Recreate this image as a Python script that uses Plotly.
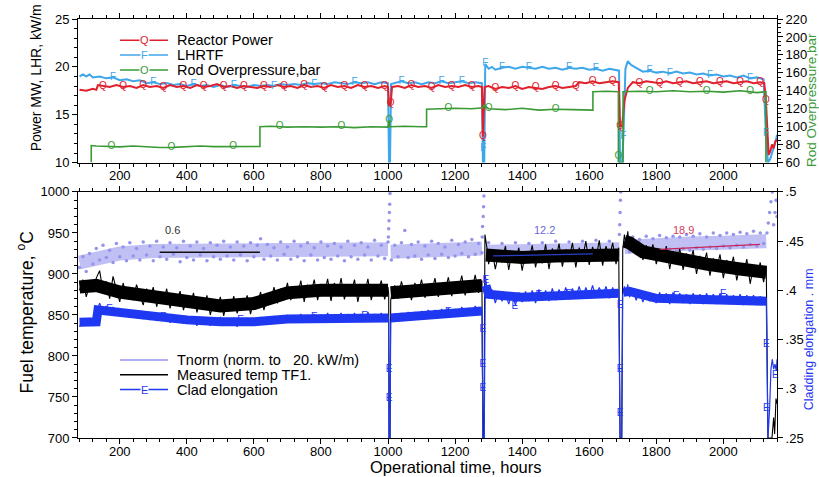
import plotly.graph_objects as go

# ---------------- data ----------------
# Top panel, left axis (MW / kW/m)
power = [(80,17.6),(100,17.5),(120,17.7),(130,17.6),(135,18.1),(150,18.0),(170,17.9),(190,18.1),(210,17.9),(230,18.0),
         (250,17.8),(270,18.1),(290,17.9),(310,18.0),(330,17.8),(350,18.1),(370,17.9),(390,18.0),(410,17.8),(430,18.1),
         (450,17.9),(470,18.0),(490,18.2),(510,17.9),(530,18.0),(550,17.8),(570,18.0),(590,17.9),(610,17.8),(630,18.0),
         (650,17.9),(670,18.1),(690,17.9),(710,18.0),(730,17.8),(750,18.1),(770,17.9),(790,18.0),(810,17.8),(830,18.1),
         (850,17.9),(870,18.0),(890,17.8),(910,18.1),(930,17.9),(950,18.0),(970,17.8),(990,18.0),(1000,17.9),(1003,15.9),
         (1008,16.2),(1012,17.9),(1030,18.0),(1050,17.8),(1070,18.1),(1090,17.9),(1110,18.0),(1130,17.8),(1150,18.1),(1170,17.9),
         (1190,18.0),(1210,17.9),(1230,18.1),(1250,17.9),(1270,18.0),(1280,17.9),(1283,12.7),(1288,17.9),(1300,18.0),(1320,17.7),
         (1340,17.9),(1360,17.8),(1380,18.0),(1400,17.7),(1420,17.9),(1440,17.8),(1460,17.7),(1480,17.9),(1500,18.0),(1520,17.8),
         (1540,17.9),(1560,18.0),(1570,18.4),(1590,18.3),(1610,18.5),(1630,18.3),(1650,18.4),(1670,18.5),(1688,18.4),(1692,13.8),
         (1698,13.8),(1705,16.5),(1715,17.8),(1730,18.4),(1750,18.3),(1770,18.5),(1790,18.4),(1810,18.3),(1830,18.5),(1850,18.3),
         (1870,18.4),(1890,18.5),(1910,18.3),(1930,18.4),(1950,18.5),(1970,18.3),(1990,18.4),(2010,18.5),(2030,18.3),(2050,18.4),
         (2070,18.5),(2090,18.3),(2110,18.4),(2122,18.3),(2127,16.5),(2135,10.8),(2140,11.2),(2145,11.9),(2150,11.5),(2155,12.2),
         (2160,12.4)]
power_letters_x = [150,210,270,330,390,450,510,570,630,690,750,810,870,930,990,1008,1070,1130,1190,1250,1283,
                   1320,1380,1440,1500,1560,1610,1670,1692,1750,1810,1870,1930,1990,2050,2110,2127]

lhr = [(80,19.0),(90,19.2),(100,19.0),(110,19.2),(120,18.9),(140,19.0),(160,18.8),(180,18.9),(200,18.6),(220,18.7),
       (240,18.5),(260,18.6),(280,18.3),(300,18.4),(320,18.2),(340,18.3),(360,18.1),(380,18.2),(400,18.0),(420,18.2),
       (440,18.0),(460,18.1),(480,17.9),(500,18.1),(520,17.9),(540,18.1),(560,18.0),(580,17.9),(600,18.1),(620,18.0),
       (640,18.1),(660,18.0),(680,18.2),(700,18.1),(720,18.2),(740,18.1),(760,18.3),(780,18.2),(800,18.3),(820,18.2),
       (840,18.4),(860,18.3),(880,18.2),(900,18.4),(920,18.3),(940,18.4),(960,18.2),(980,18.4),(1000,18.3),(1003,10.0),
       (1006,10.0),(1009,18.2),(1020,18.3),(1040,18.5),(1060,18.3),(1080,18.4),(1100,18.2),(1120,18.4),(1140,18.3),(1160,18.5),
       (1180,18.3),(1200,18.4),(1220,18.5),(1240,18.3),(1260,18.4),(1280,18.3),(1283,10.0),(1287,10.0),(1290,20.3),(1300,19.8),
       (1310,20.0),(1320,19.7),(1340,19.9),(1360,20.0),(1380,19.8),(1400,20.0),(1420,19.9),(1440,19.8),(1460,20.0),(1480,19.8),
       (1500,19.9),(1520,19.7),(1540,19.9),(1560,19.8),(1580,19.9),(1600,19.7),(1620,19.8),(1640,19.6),(1660,19.8),(1680,19.7),
       (1689,19.6),(1692,10.0),(1698,10.0),(1702,12.7),(1708,19.8),(1715,20.6),(1725,20.2),(1740,19.9),(1760,19.5),(1780,19.6),
       (1800,19.4),(1820,19.5),(1840,19.3),(1860,19.5),(1880,19.3),(1900,19.4),(1920,19.2),(1940,19.3),(1960,19.1),(1980,19.2),
       (2000,19.0),(2020,19.1),(2040,18.9),(2060,19.1),(2080,18.8),(2100,18.9),(2120,18.7),(2127,13.0),(2133,10.0),(2140,10.4),
       (2146,11.0),(2152,11.8),(2158,12.5),(2160,12.9)]
lhr_letters_x = [180,300,420,540,660,780,900,1040,1160,1220,1290,1340,1420,1540,1620,1702,1780,1840,1960,2080,2127]
lhr_extra_letters = [(1284, 11.5)]

# Top panel, right axis (bar)
pressure = [(115,60),(115,79),(130,78.5),(160,78),(200,77.5),(240,78.5),(280,77.5),(320,76.8),(360,77),(400,77.5),
            (440,78.5),(480,77.8),(520,78),(560,78.5),(600,78.3),(618,78),(618,100),(650,100.5),(700,99.5),(750,100),
            (800,99.5),(850,100),(900,99),(950,100),(1000,99.5),(1003,107),(1006,100),(1050,100.5),(1100,100),(1115,100),
            (1115,119.5),(1150,120),(1200,120.5),(1250,120),(1283,121),(1286,124),(1300,120),(1350,119),(1400,120.5),(1450,118.5),
            (1500,119.5),(1550,119),(1611,118.5),(1611,139),(1650,139.5),(1687,139),(1687,60),(1701,60),(1701,139),(1750,139.5),
            (1800,139),(1850,140),(1900,139),(1950,139.5),(2000,138.5),(2050,140),(2100,138),(2127,139),(2127,60)]
pressure_letters = [(175,77.8),(354,77),(538,78.3),(677,99.8),(861,99.8),(1003,107),(1180,120.2),(1300,120.3),
                    (1500,119.5),(1687,66.6),(1780,139.2),(1950,139.5),(2080,138.8)]

# Bottom panel, left axis (deg C): measured TF1
tf1 = [(80,880),(90,893),(100,872),(110,886),(120,878),(130,895),(140,904),(150,879),(160,891),(170,870),(180,897),(190,883),
       (200,866),(210,889),(220,874),(230,884),(240,868),(250,887),(260,875),(270,862),(280,882),(290,871),(300,884),(310,860),
       (320,877),(330,866),(340,882),(350,858),(360,874),(370,868),(380,879),(390,856),(400,871),(410,862),(420,877),(430,853),
       (440,869),(450,858),(460,874),(470,850),(480,866),(490,857),(500,872),(510,849),(520,868),(530,856),(540,873),(550,852),
       (560,866),(570,859),(580,874),(590,851),(600,869),(610,862),(620,878),(630,856),(640,873),(650,866),(660,884),(670,864),
       (680,882),(690,871),(700,889),(710,868),(720,885),(730,874),(740,892),(750,866),(760,887),(770,876),(780,893),(790,868),
       (800,886),(810,875),(820,894),(830,867),(840,889),(850,874),(860,895),(870,869),(880,887),(890,876),(900,893),(910,866),
       (920,886),(930,875),(940,894),(950,868),(960,885),(970,877),(980,892),(990,869),(1000,884),(1002,875),(1003,700),(1006,700),
       (1008,868),(1010,872),(1020,886),(1030,870),(1040,891),(1050,875),(1060,884),(1070,868),(1080,889),(1090,877),(1100,893),
       (1110,871),(1120,886),(1130,878),(1140,895),(1150,872),(1160,888),(1170,879),(1180,896),(1190,873),(1200,890),(1210,881),
       (1220,898),(1230,874),(1240,891),(1250,880),(1260,899),(1270,877),(1280,892),(1283,700),(1286,700),(1289,948),(1295,932),
       (1300,912),(1310,930),(1320,906),(1330,926),(1340,914),(1350,934),(1360,905),(1370,928),(1380,915),(1390,932),(1400,904),
       (1410,927),(1420,916),(1430,935),(1440,908),(1450,929),(1460,913),(1470,936),(1480,906),(1490,931),(1500,917),(1510,937),
       (1520,909),(1530,930),(1540,918),(1550,938),(1560,908),(1570,932),(1580,919),(1590,940),(1600,911),(1610,933),(1620,918),
       (1630,941),(1640,910),(1650,934),(1660,920),(1670,938),(1680,912),(1688,932),(1692,700),(1697,700),(1700,930),(1705,948),
       (1710,936),(1715,952),(1720,931),(1730,944),(1740,925),(1750,939),(1760,917),(1770,935),(1780,922),(1790,936),(1800,912),
       (1810,930),(1820,918),(1830,934),(1840,906),(1850,928),(1860,914),(1870,931),(1880,905),(1890,925),(1900,912),(1910,929),
       (1920,900),(1930,922),(1940,909),(1950,926),(1960,898),(1970,919),(1980,906),(1990,924),(2000,895),(2010,917),(2020,903),
       (2030,921),(2040,892),(2050,913),(2060,900),(2070,918),(2080,888),(2090,910),(2100,897),(2110,914),(2120,890),(2128,908),
       (2133,700),(2145,700),(2150,725),(2153,705),(2157,748),(2160,742)]
tf1_band = [(80,884),(130,886),(200,878),(300,871),(400,865),(500,861),(600,864),(700,877),(800,880),(900,880),
            (1000,880),(None,None),(1008,877),(1100,881),(1200,884),(1280,886),(None,None),(1292,923),(1400,920),
            (1500,922),(1600,924),(1688,923),(None,None),(1705,940),(1720,938),(1760,927),(1850,919),(1950,912),
            (2050,906),(2128,902)]

# Tnorm (deg C)
tnorm_band = [(80,914),(130,918),(200,925),(300,928),(400,928),(500,928),(600,929),(700,929),(800,928),(900,929),
              (1000,930),(None,None),(1008,927),(1100,929),(1200,930),(1280,931),(None,None),(1292,927),(1400,927),
              (1500,928),(1600,929),(1690,930),(None,None),(1705,933),(1800,936),(1900,937),(2000,938),(2128,940)]
tnorm_dots = [(80,908),(90,921),(100,903),(110,925),(120,912),(130,931),(140,917),(150,935),(160,920),(170,929),(180,914),
              (190,937),(200,921),(210,933),(220,916),(230,938),(240,922),(250,931),(260,917),(270,939),(280,923),(290,934),
              (300,916),(310,940),(320,921),(330,933),(340,918),(350,938),(360,924),(370,932),(380,915),(390,940),(400,920),
              (410,934),(420,917),(430,939),(440,923),(450,931),(460,916),(470,938),(480,921),(490,935),(500,918),(510,940),
              (520,922),(530,933),(540,917),(550,939),(560,923),(570,934),(580,916),(590,938),(600,921),(610,935),(620,943),
              (630,918),(640,936),(650,922),(660,932),(670,917),(680,939),(690,924),(700,933),(710,918),(720,940),(730,921),
              (740,934),(750,916),(760,938),(770,923),(780,932),(790,917),(800,939),(810,920),(820,934),(830,918),(840,937),
              (850,922),(860,933),(870,916),(880,940),(890,921),(900,935),(910,918),(920,938),(930,923),(940,933),(950,917),
              (960,941),(970,922),(980,935),(990,919),(1000,939),(1001,945),(1002,955),(1003,965),(1004,975),(1005,985),
              (1006,998),(1010,917),(1020,935),(1030,921),(1040,938),(1050,953),(1060,920),(1070,936),(1080,922),(1090,939),
              (1100,918),(1110,934),(1120,923),(1130,940),(1140,919),(1150,937),(1160,924),(1170,933),(1180,920),(1190,941),
              (1200,922),(1210,936),(1220,925),(1230,939),(1240,921),(1250,942),(1260,924),(1270,937),(1280,926),(1281,945),
              (1282,958),(1284,970),(1285,982),(1286,995),(1300,938),(1320,917),(1340,937),(1360,918),(1380,938),(1400,919),
              (1420,937),(1440,920),(1460,938),(1480,919),(1500,940),(1520,920),(1540,939),(1560,921),(1580,940),(1600,922),
              (1620,941),(1640,921),(1660,940),(1680,922),(1690,948),(1691,960),(1692,975),(1693,990),(1694,1000),(1710,940),
              (1720,927),(1730,945),(1740,925),(1750,942),(1760,928),(1770,946),(1780,926),(1790,943),(1800,929),(1810,947),
              (1820,927),(1830,944),(1840,930),(1850,946),(1860,928),(1870,945),(1880,931),(1890,948),(1900,929),(1910,946),
              (1920,932),(1930,949),(1940,930),(1950,945),(1960,933),(1970,950),(1980,931),(1990,947),(2000,934),(2010,950),
              (2020,932),(2030,948),(2040,935),(2050,951),(2060,933),(2070,949),(2080,936),(2090,952),(2100,934),(2110,950),
              (2120,937),(2130,950),(2134,962),(2138,975),(2142,988),(2146,1000),(2150,960),(2154,975),(2157,990),(2160,970)]

# Bottom panel, right axis (mm): cladding elongation
clad = [(80,.363),(90,.370),(100,.365),(110,.372),(120,.364),(130,.369),(135,.382),(140,.387),(150,.378),(160,.384),(170,.377),
        (180,.383),(190,.375),(200,.381),(210,.374),(220,.380),(230,.373),(240,.379),(250,.372),(260,.378),(270,.371),(280,.377),
        (290,.370),(300,.376),(310,.369),(320,.377),(330,.370),(340,.375),(350,.367),(360,.374),(370,.368),(380,.373),(390,.366),
        (400,.374),(410,.367),(420,.372),(430,.364),(440,.373),(450,.366),(460,.372),(470,.364),(480,.371),(490,.365),(500,.373),
        (510,.364),(520,.371),(530,.366),(540,.372),(550,.363),(560,.371),(570,.365),(580,.372),(590,.364),(600,.371),(610,.366),
        (620,.373),(630,.365),(640,.372),(650,.367),(660,.374),(670,.366),(680,.373),(690,.368),(700,.375),(710,.367),(720,.374),
        (730,.369),(740,.376),(750,.367),(760,.375),(770,.369),(780,.376),(790,.368),(800,.375),(810,.369),(820,.377),(830,.368),
        (840,.375),(850,.370),(860,.377),(870,.368),(880,.376),(890,.369),(900,.377),(910,.368),(920,.376),(930,.370),(940,.378),
        (950,.368),(960,.376),(970,.370),(980,.377),(990,.369),(1000,.375),(1002,.370),(1003,.25),(1006,.25),(1008,.368),
        (1020,.376),(1030,.369),(1040,.377),(1050,.370),(1060,.378),(1070,.371),(1080,.378),(1090,.371),(1100,.379),(1110,.372),
        (1120,.380),(1130,.373),(1140,.380),(1150,.372),(1160,.381),(1170,.374),(1180,.382),(1190,.374),(1200,.381),(1210,.375),
        (1220,.383),(1230,.375),(1240,.382),(1250,.376),(1260,.384),(1270,.376),(1280,.382),(1283,.25),(1287,.25),(1290,.415),
        (1295,.402),(1300,.392),(1310,.401),(1320,.387),(1330,.399),(1340,.389),(1350,.398),(1360,.386),(1370,.397),(1380,.385),
        (1390,.398),(1400,.388),(1410,.399),(1420,.389),(1430,.400),(1440,.387),(1450,.401),(1460,.390),(1470,.400),(1480,.389),
        (1490,.402),(1500,.390),(1510,.401),(1520,.391),(1530,.403),(1540,.391),(1550,.402),(1560,.392),(1570,.404),(1580,.392),
        (1590,.403),(1600,.393),(1610,.405),(1620,.393),(1630,.403),(1640,.394),(1650,.404),(1660,.392),(1670,.403),(1680,.393),
        (1688,.401),(1692,.25),(1697,.25),(1700,.395),(1705,.404),(1710,.398),(1715,.406),(1720,.393),(1730,.401),(1740,.390),
        (1750,.399),(1760,.388),(1770,.398),(1780,.389),(1790,.397),(1800,.387),(1810,.398),(1820,.388),(1830,.397),(1840,.386),
        (1850,.398),(1860,.388),(1870,.397),(1880,.387),(1890,.396),(1900,.386),(1910,.397),(1920,.387),(1930,.396),(1940,.386),
        (1950,.397),(1960,.387),(1970,.396),(1980,.386),(1990,.397),(2000,.387),(2010,.396),(2020,.386),(2030,.395),(2040,.386),
        (2050,.396),(2060,.385),(2070,.395),(2080,.386),(2090,.395),(2100,.385),(2110,.394),(2120,.386),(2128,.392),(2133,.25),
        (2138,.28),(2142,.32),(2146,.33),(2150,.32),(2154,.325),(2158,.318),(2160,.33)]
clad_band = [(80,.3675),(130,.368),(135,.380),(200,.377),(300,.374),(400,.370),(500,.368),(600,.368),(700,.371),
             (800,.372),(900,.372),(1000,.372),(None,None),(1008,.372),(1100,.375),(1200,.377),(1280,.379),(None,None),
             (1292,.405),(1300,.396),(1400,.393),(1500,.395),(1600,.397),(1688,.397),(None,None),(1702,.398),(1720,.399),
             (1800,.392),(1900,.391),(2000,.391),(2100,.390),(2128,.389)]
clad_letters = [(170,.381),(330,.372),(560,.369),(780,.372),(930,.373),(1003,.32),(1003,.29),(1180,.377),(1283,.36),
                (1283,.325),(1283,.30),(1292,.41),(1378,.384),(1450,.395),(1540,.396),(1692,.385),(1692,.32),(1692,.275),
                (1860,.394),(2000,.396),(2128,.345),(2128,.28),(2155,.313)]

# fitted trend lines and their slope labels
trend_a = [(319,926.5),(618,926.5)]
trend_b = [(1313,922),(1611,924.5)]
trend_c = [(1811,930),(2109,936)]
trend_labels = [(358,"0.6"),(1468,"12.2"),(1880,"18.9")]
trend_label_y = 954

x_ticks = [200,400,600,800,1000,1200,1400,1600,1800,2000]
clad_ticks = [.25,.3,.35,.4,.45,.5]
clad_tick_text = [".25",".3",".35",".4",".45",".5"]

# ---------------- styling ----------------
W, H = 819, 477
ML, MR, MT, MB = 78, 42, 14, 39
PW, PH = W - ML - MR, H - MT - MB
FONT = "Arial, 'Liberation Sans', sans-serif"
RED, LBLUE, GREEN = "#e0202c", "#3ea6ea", "#3a9a34"
PURPLE, PURPLE_BAND, BLACK, BLUE = "#9494ec", "#c0c0f5", "#000000", "#1f38f2"

def px(x): return (x - ML) / PW
def py(y): return (H - MB - y) / PH

def xs(pts): return [p[0] for p in pts]
def ys(pts): return [p[1] for p in pts]

power_map = dict(power)
lhr_map = dict(lhr)

fig = go.Figure()

def line(pts, color, width, xa, ya):
    fig.add_trace(go.Scatter(x=xs(pts), y=ys(pts), mode="lines", xaxis=xa, yaxis=ya,
                             line=dict(color=color, width=width),
                             showlegend=False, hoverinfo="skip", connectgaps=False))

def letters(pts, letter, color, xa, ya, size=10):
    fig.add_trace(go.Scatter(x=xs(pts), y=ys(pts), mode="text", text=[letter]*len(pts),
                             xaxis=xa, yaxis=ya, textfont=dict(color=color, size=size, family=FONT),
                             showlegend=False, hoverinfo="skip", cliponaxis=False))

# top panel
line(pressure, GREEN, 1.6, "x", "y2")
line(lhr, LBLUE, 2.0, "x", "y")
line(power, RED, 2.0, "x", "y")
letters(pressure_letters, "O", GREEN, "x", "y2")
letters([(x, lhr_map[x]) for x in lhr_letters_x] + lhr_extra_letters, "F", LBLUE, "x", "y")
letters([(x, power_map[x]) for x in power_letters_x], "Q", RED, "x", "y")

# bottom panel
line(tnorm_band, PURPLE_BAND, 14, "x2", "y3")
fig.add_trace(go.Scatter(x=xs(tnorm_dots), y=ys(tnorm_dots), mode="markers", xaxis="x2", yaxis="y3",
                         marker=dict(color=PURPLE, size=3.5), showlegend=False, hoverinfo="skip"))
line(clad_band, BLUE, 9, "x2", "y4")
line(clad, BLUE, 1.2, "x2", "y4")
line(tf1_band, BLACK, 13, "x2", "y3")
line(tf1, BLACK, 1.1, "x2", "y3")
line(trend_a, "#111111", 1.3, "x2", "y3")
line(trend_b, "#2a3fc8", 1.3, "x2", "y3")
line(trend_c, "#c8245a", 1.3, "x2", "y3")
letters(clad_letters, "E", BLUE, "x2", "y4", size=10)

ax_common = dict(showline=True, linecolor="black", linewidth=1, ticks="outside", ticklen=5,
                 tickcolor="black", showgrid=False, zeroline=False,
                 tickfont=dict(size=13, color="black", family=FONT))
minor_t = dict(ticklen=3, ticks="outside", tickcolor="black")
xr = [75.5, 2160]
fig.update_layout(
    width=W, height=H, margin=dict(l=ML, r=MR, t=MT, b=MB),
    paper_bgcolor="white", plot_bgcolor="white", font=dict(family=FONT, color="black"),
    showlegend=False,
    xaxis=dict(ax_common, domain=[0, 1], anchor="y", range=xr, tickvals=x_ticks, mirror="ticks",
               ticklabelstandoff=-4, minor=dict(minor_t, dtick=40, tick0=0)),
    yaxis=dict(ax_common, domain=[py(159.3), 1], anchor="x", range=[10, 25], dtick=5,
               minor=dict(minor_t, dtick=1)),
    yaxis2=dict(ax_common, overlaying="y", side="right", anchor="x", range=[60, 220], dtick=20,
                minor=dict(minor_t, dtick=5)),
    xaxis2=dict(ax_common, domain=[0, 1], anchor="y3", range=xr, tickvals=x_ticks, mirror="ticks",
                ticklabelstandoff=-4, minor=dict(minor_t, dtick=40, tick0=0)),
    yaxis3=dict(ax_common, domain=[0, py(189)], anchor="x2", range=[700, 1000], dtick=50,
                minor=dict(minor_t, dtick=10)),
    yaxis4=dict(ax_common, overlaying="y3", side="right", anchor="x2", range=[.25, .5],
                tickvals=clad_ticks, ticktext=clad_tick_text),
)

ann = []
shapes = []
def text(xp, yp, s, size, color="black", angle=0, xanchor="center", bg=None):
    d = dict(x=px(xp), y=py(yp), xref="paper", yref="paper", text=s, showarrow=False,
             font=dict(size=size, color=color, family=FONT), textangle=angle,
             xanchor=xanchor, yanchor="middle")
    if bg:
        d.update(bgcolor=bg, borderpad=0)
    ann.append(d)

# axis titles
text(36, 74, "Power MW, LHR, kW/m", 14, angle=-90)
text(26, 311, "Fuel temperature, <sup>o</sup>C", 17.5, angle=-90)
text(456, 467, "Operational time, hours", 16.5)
text(811, 96, "Rod Overpressure,bar", 13.5, color=GREEN, angle=-90)
text(809, 338, "Cladding elongation . mm", 12.5, color=BLUE, angle=-90)

# trend labels
label_colors = ["#333333", "#6a6ad2", "#d23c5a"]
for (xv, s), c in zip(trend_labels, label_colors):
    ann.append(dict(x=xv, y=trend_label_y, xref="x2", yref="y3", text=s, showarrow=False,
                    font=dict(size=11, color=c, family=FONT)))

# custom legends
def legend_row(yp, color, label, letter=None, width=1.5):
    shapes.append(dict(type="line", xref="paper", yref="paper", x0=px(120), x1=px(168),
                       y0=py(yp), y1=py(yp), line=dict(color=color, width=width)))
    if letter:
        text(144, yp, letter, 11, color=color, bg="white")
    text(175, yp, label, 14.5, xanchor="left")

legend_row(35.5, RED, "Reactor Power", "Q")
legend_row(50.5, LBLUE, "LHRTF", "F")
legend_row(65.5, GREEN, "Rod Overpressure,bar", "O")
legend_row(359, PURPLE, "Tnorm (norm. to\u00a0\u00a0 20. kW/m)")
legend_row(374, BLACK, "Measured temp TF1.")
legend_row(389, BLUE, "Clad elongation", "E")

fig.update_layout(annotations=ann, shapes=shapes)
fig.write_html("out.html", config={"displayModeBar": False},
               post_script="document.body.style.margin='0px';")
